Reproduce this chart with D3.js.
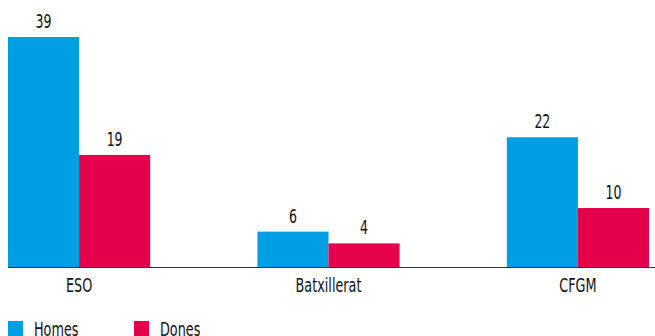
<!DOCTYPE html>
<html>
<head>
<meta charset="utf-8">
<script src="https://cdn.jsdelivr.net/npm/d3@7"></script>
<style>
  body { margin: 0; background: #fff; }
  text { font-family: "DejaVu Sans", sans-serif; fill: #111; }
</style>
</head>
<body>
<script>
// data
const categories = ['ESO', 'Batxillerat', 'CFGM'];
const series = ['Homes', 'Dones'];
const homes = [39, 6, 22];
const dones = [19, 4, 10];
const colors = ['#009fe3', '#e4004b'];

const width = 655;
const height = 336;
const baseline = 267;
const fontSize = '20px';
const squeeze = 0.64; // the original uses a narrow condensed face
const digitSqueeze = 0.66;

const data = categories.map((c, i) => ({ cat: c, values: [homes[i], dones[i]] }));

// scales
const x0 = d3.scaleBand().domain(categories).range([8, 649]).paddingInner(0.43).paddingOuter(0);
const x1 = d3.scaleBand().domain(series).range([0, x0.bandwidth()]);
const y = d3.scaleLinear().domain([0, 39]).range([baseline, 37]);
const color = d3.scaleOrdinal().domain(series).range(colors);

const svg = d3.select('body').append('svg')
  .attr('width', width)
  .attr('height', height);

const groups = svg.selectAll('.cat')
  .data(data)
  .enter().append('g')
  .attr('class', 'cat')
  .attr('transform', d => 'translate(' + x0(d.cat) + ',0)');

const bars = groups.selectAll('g.bar')
  .data(d => d.values.map((v, i) => ({ key: series[i], value: v })))
  .enter().append('g')
  .attr('class', 'bar');

bars.append('rect')
  .attr('x', d => x1(d.key))
  .attr('y', d => y(d.value))
  .attr('width', x1.bandwidth())
  .attr('height', d => baseline - y(d.value))
  .style('fill', d => color(d.key));

// value labels
bars.append('text')
  .attr('transform', d => 'translate(' + (x1(d.key) + x1.bandwidth() / 2) + ',' + (y(d.value) - 9) + ') scale(' + digitSqueeze + ',1)')
  .attr('text-anchor', 'middle')
  .style('font-size', '19px')
  .text(d => d.value);

// x axis
const xAxis = svg.append('g')
  .attr('transform', 'translate(0,' + baseline + ')')
  .call(d3.axisBottom(x0).tickSize(0).tickPadding(11));
xAxis.select('.domain').attr('d', 'M8,0.5H655').style('stroke', '#333');
xAxis.selectAll('text')
  .style('font-size', fontSize)
  .style('font-family', null)
  .attr('fill', null)
  .attr('transform', 'scale(' + squeeze + ',1)');

// legend
const legend = svg.selectAll('.legend')
  .data(series)
  .enter().append('g')
  .attr('class', 'legend')
  .attr('transform', (d, i) => 'translate(' + (8 + i * 126) + ',321)');

legend.append('rect')
  .attr('width', 15)
  .attr('height', 15)
  .style('fill', d => color(d));

legend.append('text')
  .attr('transform', 'translate(26,15) scale(' + squeeze + ',1)')
  .style('font-size', fontSize)
  .text(d => d);
</script>
</body>
</html>
